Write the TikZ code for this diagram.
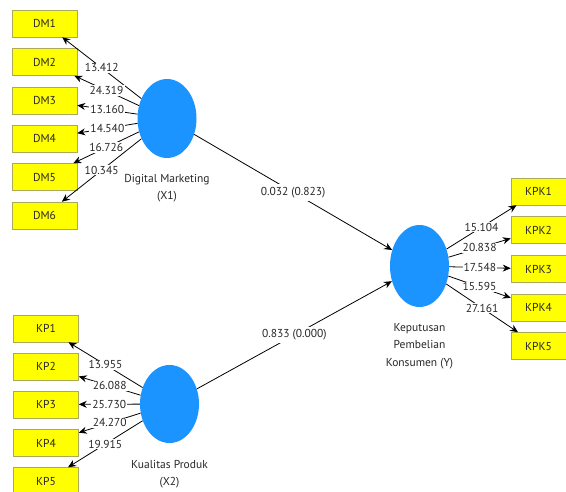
\documentclass[tikz,border=0pt]{standalone}
\usepackage{fontspec}
\setmainfont{PT Sans}
\usetikzlibrary{shapes.geometric,arrows.meta}
\definecolor{lvblue}{RGB}{28,148,255}
\definecolor{mvyellow}{RGB}{255,255,0}
\definecolor{mvedge}{RGB}{170,170,90}
\definecolor{txt}{RGB}{40,40,40}
\tikzset{
  mv/.style={draw=mvedge,fill=mvyellow,line width=0.5pt,minimum width=65pt,minimum height=27pt,inner sep=0pt,font=\fontsize{11.5}{12}\selectfont,text=txt},
  mvr/.style={mv,minimum width=55pt},
  lv/.style={ellipse,fill=lvblue,draw=none,minimum width=59pt,inner sep=0pt},
  lvlbl/.style={align=center,font=\fontsize{11.5}{17.5}\selectfont,text=txt},
  arr/.style={draw=black,line width=0.8pt,-{Stealth[length=8pt,width=7pt]}},
  num/.style={fill=white,inner sep=1pt,font=\fontsize{11.5}{12}\selectfont,text=txt},
}
\begin{document}
\begin{tikzpicture}[x=1pt,y=-1pt]
\useasboundingbox[fill=white] (0,0) rectangle (566,492);
% indicator boxes
\node[mv] (dm1) at (44.5,23.5) {DM1};
\node[mv] (dm2) at (44.5,62) {DM2};
\node[mv] (dm3) at (44.5,100.5) {DM3};
\node[mv] (dm4) at (44.5,138.5) {DM4};
\node[mv] (dm5) at (44.5,177) {DM5};
\node[mv] (dm6) at (44.5,215.5) {DM6};
\node[mv] (kp1) at (46,328.5) {KP1};
\node[mv] (kp2) at (46,366.5) {KP2};
\node[mv] (kp3) at (46,404.5) {KP3};
\node[mv] (kp4) at (46,443) {KP4};
\node[mv] (kp5) at (46,481) {KP5};
\node[mvr] (kpk1) at (538.5,191.5) {KPK1};
\node[mvr] (kpk2) at (538.5,230) {KPK2};
\node[mvr] (kpk3) at (538.5,269) {KPK3};
\node[mvr] (kpk4) at (538.5,307.5) {KPK4};
\node[mvr] (kpk5) at (538.5,346) {KPK5};
% latent variables
\node[lv,minimum height=79pt] (x1) at (167,118.5) {};
\node[lv,minimum height=78pt] (x2) at (169.5,404) {};
\node[lv,minimum height=82pt] (y) at (419.5,266) {};
\node[lvlbl] (x1l) at (167,188) {Digital Marketing\\(X1)};
\node[lvlbl] (x2l) at (169.5,474) {Kualitas Produk\\(X2)};
\node[lvlbl] (yl) at (419.5,346) {Keputusan\\Pembelian\\Konsumen (Y)};
% outer loadings
\draw[arr] (x1) -- node[num]{13.412} (dm1);
\draw[arr] (x1) -- node[num]{24.319} (dm2);
\draw[arr] (x1) -- node[num]{13.160} (dm3);
\draw[arr] (x1) -- node[num]{14.540} (dm4);
\draw[arr] (x1) -- node[num]{16.726} (dm5);
\draw[arr] (x1) -- node[num]{10.345} (dm6);
\draw[arr] (x2) -- node[num]{13.955} (kp1);
\draw[arr] (x2) -- node[num]{26.088} (kp2);
\draw[arr] (x2) -- node[num]{25.730} (kp3);
\draw[arr] (x2) -- node[num]{24.270} (kp4);
\draw[arr] (x2) -- node[num]{19.915} (kp5);
\draw[arr] (y) -- node[num]{15.104} (kpk1);
\draw[arr] (y) -- node[num]{20.838} (kpk2);
\draw[arr] (y) -- node[num]{17.548} (kpk3);
\draw[arr] (y) -- node[num]{15.595} (kpk4);
\draw[arr] (y) -- node[num]{27.161} (kpk5);
% path coefficients
\draw[arr] (x1) -- node[num,inner sep=3pt]{0.032 (0.823)} (y);
\draw[arr] (x2) -- node[num,inner sep=3pt]{0.833 (0.000)} (y);
\end{tikzpicture}
\end{document}
